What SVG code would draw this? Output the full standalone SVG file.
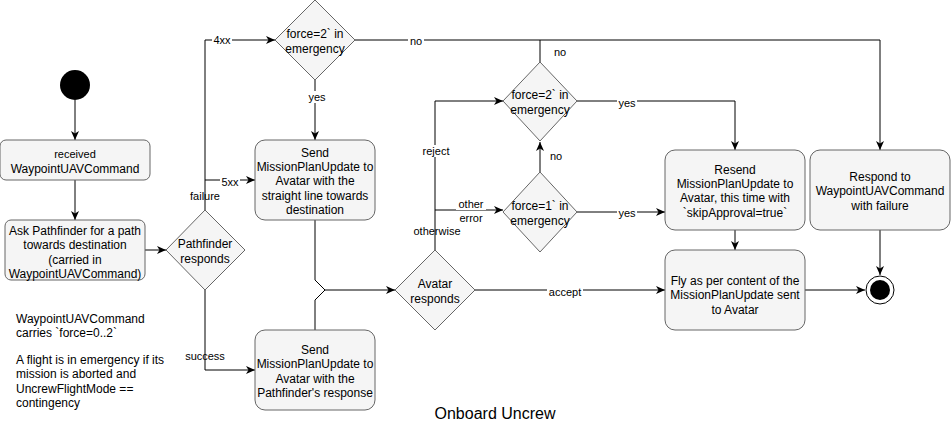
<svg xmlns="http://www.w3.org/2000/svg" width="951" height="431" viewBox="0 0 951 431">
<style>
text{font-family:"Liberation Sans",Arial,sans-serif;font-size:12px;fill:#000;text-anchor:middle}
.n{fill:#f5f5f5;stroke:#666;stroke-width:1}
.e{fill:none;stroke:#000;stroke-width:1}
.l{font-size:11px}
.lb{fill:#fff}
</style>
<defs><marker id="a" markerWidth="10" markerHeight="10" refX="9" refY="5" orient="auto" markerUnits="userSpaceOnUse"><path d="M0,1 L9,5 L0,9 L2.5,5 Z" fill="#000"/></marker></defs>
<g id="connectors">
<path class="e" marker-end="url(#a)" d="M75,100 V140"/>
<path class="e" marker-end="url(#a)" d="M75,180 V220"/>
<path class="e" marker-end="url(#a)" d="M145,250 H166"/>
<path class="e" marker-end="url(#a)" d="M205,210 V40 H275"/>
<path class="e" marker-end="url(#a)" d="M205,180 H255"/>
<path class="e" marker-end="url(#a)" d="M205,290 V370 H255"/>
<path class="e" marker-end="url(#a)" d="M315,80 V140"/>
<path class="e" marker-end="url(#a)" d="M355,40 H880 V150"/>
<path class="e" d="M540,62 V40"/>
<path class="e" marker-end="url(#a)" d="M315,220 V280 L325,290 H395"/>
<path class="e" d="M315,330 V300 L325,290"/>
<path class="e" marker-end="url(#a)" d="M435,250 V101 H503"/>
<path class="e" marker-end="url(#a)" d="M435,210 H503"/>
<path class="e" marker-end="url(#a)" d="M475,290 H665"/>
<path class="e" marker-end="url(#a)" d="M577,101 H735 V150"/>
<path class="e" marker-end="url(#a)" d="M577,212 H665"/>
<path class="e" marker-end="url(#a)" d="M540,172 V142"/>
<path class="e" marker-end="url(#a)" d="M735,230 V250"/>
<path class="e" marker-end="url(#a)" d="M805,290 H865"/>
<path class="e" marker-end="url(#a)" d="M880,230 V275"/>
<g class="l">
<rect class="lb" x="212" y="34" width="20" height="12"/><text class="l" x="222" y="44">4xx</text>
<rect class="lb" x="220" y="176" width="20" height="12"/><text class="l" x="230" y="186">5xx</text>
<text class="l" x="205" y="200">failure</text>
<text class="l" x="205" y="360">success</text>
<rect class="lb" x="307" y="91" width="20" height="12"/><text class="l" x="317" y="101">yes</text>
<rect class="lb" x="408" y="35" width="16" height="12"/><text class="l" x="416" y="45">no</text>
<rect class="lb" x="552" y="46" width="16" height="12"/><text class="l" x="560" y="56">no</text>
<rect class="lb" x="548" y="150" width="16" height="12"/><text class="l" x="556" y="160">no</text>
<rect class="lb" x="420" y="145" width="32" height="12"/><text class="l" x="436" y="155">reject</text>
<rect class="lb" x="456" y="198" width="30" height="12"/><text class="l" x="471" y="208">other</text>
<text class="l" x="471" y="222">error</text>
<text class="l" x="437" y="235">otherwise</text>
<rect class="lb" x="617" y="97" width="20" height="12"/><text class="l" x="627" y="107">yes</text>
<rect class="lb" x="617" y="207" width="20" height="12"/><text class="l" x="627" y="217">yes</text>
<rect class="lb" x="547" y="286" width="36" height="12"/><text class="l" x="565" y="296">accept</text>
</g>
</g>
<g id="start"><circle cx="75" cy="85" r="15" fill="#000"/></g>
<g id="received"><rect class="n" x="0" y="140" width="150" height="40" rx="6"/><text x="75" y="158" style="font-size:11px">received</text><text x="75" y="173">WaypointUAVCommand</text></g>
<g id="ask"><rect class="n" x="5" y="220" width="140" height="60" rx="6"/><text x="75" y="235">Ask Pathfinder for a path</text><text x="75" y="249">towards destination</text><text x="75" y="264">(carried in</text><text x="75" y="278">WaypointUAVCommand)</text></g>
<g id="pathfinder"><path class="n" d="M205,210 L245,250 L205,290 L166,250 Z"/><text x="205" y="248">Pathfinder</text><text x="205" y="263">responds</text></g>
<g id="force2a"><path class="n" d="M315,0 L355,40 L315,80 L275,40 Z"/><text x="315" y="38">force=2` in</text><text x="315" y="53">emergency</text></g>
<g id="send1"><rect class="n" x="255" y="140" width="120" height="80" rx="10"/><text x="315" y="157">Send</text><text x="315" y="171">MissionPlanUpdate to</text><text x="315" y="185">Avatar with the</text><text x="315" y="200">straight line towards</text><text x="315" y="214">destination</text></g>
<g id="send2"><rect class="n" x="255" y="330" width="120" height="80" rx="10"/><text x="315" y="354">Send</text><text x="315" y="368">MissionPlanUpdate to</text><text x="315" y="383">Avatar with the</text><text x="315" y="397">Pathfinder's response</text></g>
<g id="avatar"><path class="n" d="M435,250 L475,290 L435,330 L395,290 Z"/><text x="435" y="288">Avatar</text><text x="435" y="303">responds</text></g>
<g id="force2b"><path class="n" d="M540,62 L577,101 L540,141 L503,101 Z"/><text x="540" y="99">force=2` in</text><text x="540" y="114">emergency</text></g>
<g id="force1"><path class="n" d="M540,172 L577,212 L540,252 L503,212 Z"/><text x="540" y="210">force=1` in</text><text x="540" y="225">emergency</text></g>
<g id="resend"><rect class="n" x="665" y="150" width="140" height="80" rx="10"/><text x="735" y="174">Resend</text><text x="735" y="188">MissionPlanUpdate to</text><text x="735" y="202">Avatar, this time with</text><text x="735" y="217">`skipApproval=true`</text></g>
<g id="respond"><rect class="n" x="810" y="150" width="140" height="80" rx="10"/><text x="880" y="181">Respond to</text><text x="880" y="195">WaypointUAVCommand</text><text x="880" y="210">with failure</text></g>
<g id="fly"><rect class="n" x="665" y="250" width="140" height="80" rx="10"/><text x="735" y="285">Fly as per content of the</text><text x="735" y="299">MissionPlanUpdate sent</text><text x="735" y="314">to Avatar</text></g>
<g id="end"><circle cx="880" cy="290" r="14" fill="#fff" stroke="#000"/><circle cx="880" cy="290" r="10" fill="#000"/></g>
<g id="notes" style="text-anchor:start">
<text x="16" y="323" style="text-anchor:start">WaypointUAVCommand</text>
<text x="16" y="337" style="text-anchor:start">carries `force=0..2`</text>
<text x="16" y="364" style="text-anchor:start">A flight is in emergency if its</text>
<text x="16" y="378" style="text-anchor:start">mission is aborted and</text>
<text x="16" y="393" style="text-anchor:start">UncrewFlightMode ==</text>
<text x="16" y="407" style="text-anchor:start">contingency</text>
</g>
<text x="495" y="419" style="font-size:16px">Onboard Uncrew</text>
</svg>
